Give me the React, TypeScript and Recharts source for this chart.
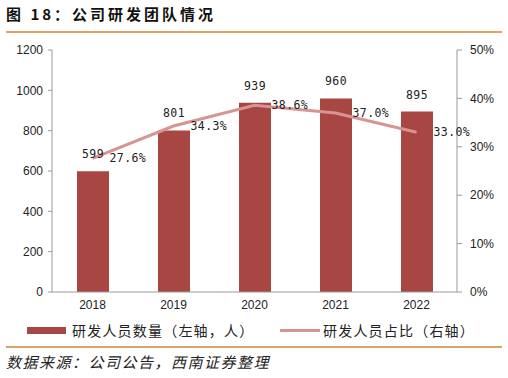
import { Bar, ComposedChart, LabelList, Line, XAxis, YAxis } from "recharts";

const years = ["2018", "2019", "2020", "2021", "2022"];
const staffCount = [599, 801, 939, 960, 895];
const staffRatio = [27.6, 34.3, 38.6, 37.0, 33.0];
const leftTicks = [0, 200, 400, 600, 800, 1000, 1200];
const rightTicks = [0, 10, 20, 30, 40, 50];

const title = "图 18：公司研发团队情况";
const barName = "研发人员数量（左轴，人）";
const lineName = "研发人员占比（右轴）";
const source = "数据来源：公司公告，西南证券整理";

const BAR = "#A84644";
const LINE = "#D69593";
const RULE = "#D6A46C";
const AXIS = "#999999";

const chartData = years.map((year, i) => ({
	year,
	count: staffCount[i],
	ratio: staffRatio[i],
}));

const tickStyle = { fontSize: 12, fill: "#222", fontFamily: "Liberation Sans, Arial, sans-serif" };
const labelStyle = {
	fontSize: 11.5,
	fill: "#222",
	fontFamily: "DejaVu Sans Mono, monospace",
	letterSpacing: 0.4,
};

export default function App() {
	return (
		<div
			style={{
				position: "absolute",
				left: 0,
				top: 0,
				width: 508,
				height: 378,
				background: "#fff",
				fontFamily: "'Noto Sans CJK SC', sans-serif",
				overflow: "hidden",
			}}
		>
			<div
				style={{
					position: "absolute",
					left: 6,
					top: 3,
					fontSize: 15,
					fontWeight: 700,
					letterSpacing: 3,
					color: "#111",
					lineHeight: "22px",
				}}
			>
				{title}
			</div>
			<div style={{ position: "absolute", left: 6, top: 31, width: 496, height: 2, background: RULE }} />

			<div style={{ position: "absolute", left: 0, top: 0 }}>
				<ComposedChart
					width={508}
					height={378}
					data={chartData}
					margin={{ top: 50, right: 6, left: 7, bottom: 66 }}
					accessibilityLayer={false}
				>
					<XAxis
						dataKey="year"
						stroke={AXIS}
						tickLine={false}
						tickSize={0}
						tickMargin={8}
						tick={tickStyle}
						height={20}
					/>
					<YAxis
						yAxisId="left"
						domain={[0, 1200]}
						ticks={leftTicks}
						stroke={AXIS}
						tickSize={4}
						tickMargin={5}
						tick={tickStyle}
						width={45}
					/>
					<YAxis
						yAxisId="right"
						orientation="right"
						domain={[0, 50]}
						ticks={rightTicks}
						tickFormatter={(v) => `${v}%`}
						stroke={AXIS}
						tickSize={5}
						tickMargin={8}
						tick={tickStyle}
						width={45}
					/>
					<Bar yAxisId="left" dataKey="count" fill={BAR} barSize={32} isAnimationActive={false}>
						<LabelList dataKey="count" position="top" offset={13} style={labelStyle} />
					</Bar>
					<Line
						yAxisId="right"
						type="linear"
						dataKey="ratio"
						stroke={LINE}
						strokeWidth={3}
						dot={false}
						isAnimationActive={false}
					>
						<LabelList
							dataKey="ratio"
							position="right"
							offset={17}
							formatter={(v) => `${Number(v).toFixed(1)}%`}
							style={labelStyle}
						/>
					</Line>
				</ComposedChart>
			</div>

			<div
				style={{
					position: "absolute",
					top: 320,
					left: 0,
					width: 508,
					height: 20,
					fontSize: 14,
					letterSpacing: 1.2,
					color: "#222",
				}}
			>
				<div style={{ position: "absolute", left: 27, top: 7, width: 39, height: 7, background: BAR }} />
				<div style={{ position: "absolute", left: 72, top: 0, lineHeight: "20px", whiteSpace: "nowrap" }}>{barName}</div>
				<div style={{ position: "absolute", left: 280, top: 9, width: 40, height: 3, background: LINE }} />
				<div style={{ position: "absolute", left: 323, top: 0, lineHeight: "20px", whiteSpace: "nowrap" }}>{lineName}</div>
			</div>

			<div style={{ position: "absolute", left: 6, top: 346, width: 496, height: 2, background: RULE }} />
			<div
				style={{
					position: "absolute",
					left: 6,
					top: 351,
					fontSize: 15,
					fontStyle: "italic",
					letterSpacing: 1.5,
					color: "#222",
					lineHeight: "22px",
					whiteSpace: "nowrap",
				}}
			>
				{source}
			</div>
		</div>
	);
}
